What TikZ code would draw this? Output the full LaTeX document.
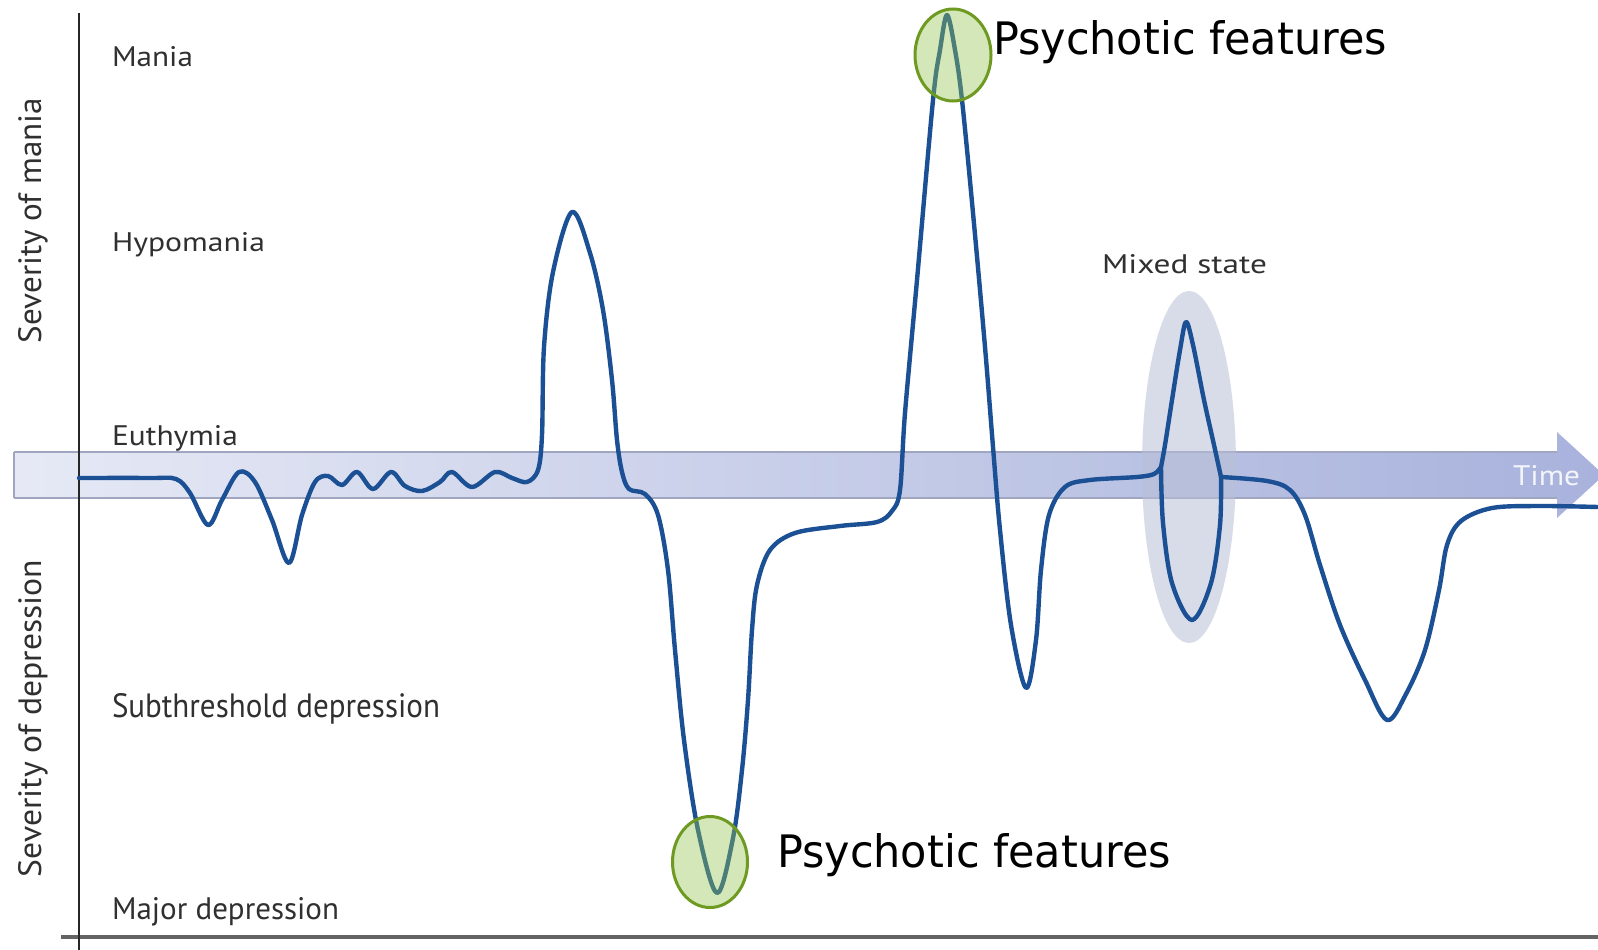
\documentclass[tikz,border=0pt]{standalone}
\usepackage{fontspec}
\setmainfont{PT Sans}
\newfontfamily\psyfont{DejaVu Sans}
\usepackage{graphicx}
\definecolor{curveblue}{RGB}{27,80,148}
\definecolor{labgrey}{RGB}{48,48,48}
\definecolor{bandL}{RGB}{230,233,245}
\definecolor{bandM}{RGB}{194,201,231}
\definecolor{bandR}{RGB}{168,178,220}
\definecolor{bandedge}{RGB}{160,166,192}
\definecolor{mixfill}{RGB}{184,191,214}
\definecolor{psygreen}{RGB}{111,154,34}
\definecolor{psyfill}{RGB}{148,197,78}
\definecolor{axisgrey}{RGB}{100,100,100}
\begin{document}
\begin{tikzpicture}[x=1pt,y=-1pt,
  lab/.style={anchor=base west, inner sep=0pt, outer sep=0pt, text=labgrey},
  curve/.style={draw=curveblue, line width=4.4pt, line cap=round, line join=round},
  psyring/.style={draw=psygreen, line width=3pt, fill=psyfill, fill opacity=0.4},
  psytext/.style={anchor=base west, inner sep=0pt, outer sep=0pt, text=black}]
\useasboundingbox (0,0) rectangle (1598,950);
\fill[white] (0,0) rectangle (1598,950);
% time band
\shade[left color=bandL, middle color=bandM, right color=bandR]
  (14,452) -- (1557,452) -- (1557,432) -- (1604,475) -- (1557,518) -- (1557,498) -- (14,498) -- cycle;
\draw[bandedge, line width=1.2pt] (14,452) -- (1557,452) (14,498) -- (1557,498) (14,452) -- (14,498);
% mixed state halo
\fill[mixfill, opacity=0.55] (1189,467) ellipse [x radius=47pt, y radius=176pt];
% axes
\draw[axisgrey, line width=4.5pt] (61,937) -- (1598,937);
\draw[black!85, line width=2pt] (79,13) -- (79,950);
% curve
\draw[curve] plot[smooth, tension=0.55] coordinates {
 (79,478) (150,478) (176,479) (190,493) (208,525) (222,500) (239,472) (255,482)
 (272,520) (289,563) (302,515) (315,482) (328,476) (342,485) (357,472) (373,489)
 (391,472) (405,486) (422,491) (440,482) (452,472) (472,487) (495,472) (512,478)
 (527,482) (538,470) (542,435) (544,347) (553,272) (572,212) (590,253) (603,310)
 (612,380) (617,440) (622,472) (629,489) (645,494) (658,515) (668,570) (675,650)
 (684,740) (698,830) (717,893) (733,838) (742,770) (748,700)
 (752,630) (757,585) (770,550) (795,533) (840,526) (877,522) (892,511) (900,490)
 (905,413) (917,280) (933,100) (940,50) (947,15) (955,50) (962,100) (973,213)
 (985,347) (993,447) (1000,530) (1011,625) (1026,688) (1036,640)
 (1041,570) (1049,515) (1065,487) (1090,480) (1137,477) (1154,474) (1161,467)};
\draw[curve] plot[smooth, tension=0.55] coordinates {
 (1161,467) (1165,445) (1172,400) (1180,350) (1186,322) (1193,345) (1204,400) (1214,445) (1221,477)};
\draw[curve] plot[smooth, tension=0.55] coordinates {
 (1161,467) (1163,523) (1172,583) (1192,620) (1211,583) (1220,525) (1221,477)};
\draw[curve] plot[smooth, tension=0.55] coordinates {
 (1221,477) (1267,481) (1290,490) (1305,515) (1320,565) (1340,625) (1365,680)
 (1387,720) (1406,694) (1425,650) (1439,590) (1447,545) (1461,521) (1492,508)
 (1540,506) (1598,507)};
% psychotic rings
\draw[psyring] (953,55) ellipse [x radius=38pt, y radius=46pt];
\draw[psyring] (710,862) ellipse [x radius=37.5pt, y radius=45.5pt];
% labels
\node[lab] (mania) at (112,67) {\resizebox{81pt}{20pt}{Mania}};
\node[lab] (hypo) at (112,251) {\resizebox{153pt}{19pt}{Hypomania}};
\node[lab] (euth) at (112,445) {\resizebox{126pt}{20pt}{Euthymia}};
\node[lab] (sub) at (112,717) {\resizebox{328pt}{24pt}{Subthreshold depression}};
\node[lab] (major) at (112,919) {\resizebox{227pt}{22pt}{Major depression}};
\node[lab] (mixed) at (1102,273) {\resizebox{165pt}{19pt}{Mixed state}};
\node[lab, text={rgb,255:red,244;green,245;blue,251}] (time) at (1513,485) {\resizebox{67pt}{20pt}{Time}};
\node[lab, rotate=90] (sevm) at (41,343) {\resizebox{245pt}{23pt}{Severity of mania}};
\node[lab, rotate=90] (sevd) at (41,877) {\resizebox{317pt}{23pt}{Severity of depression}};
\node[psytext] (psytop) at (993,55) {\resizebox{394pt}{34pt}{\psyfont Psychotic features}};
\node[psytext] (psybot) at (777,867) {\resizebox{394pt}{34pt}{\psyfont Psychotic features}};
\end{tikzpicture}
\end{document}
